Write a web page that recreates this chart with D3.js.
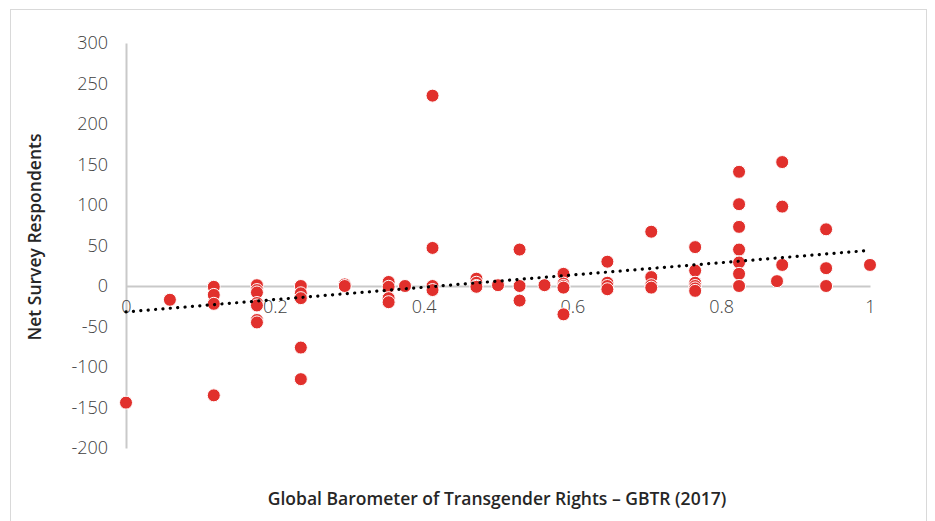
<!DOCTYPE html>
<html>
<head>
<meta charset="utf-8">
<script src="https://cdn.jsdelivr.net/npm/d3@7"></script>
<style>
  html, body { margin: 0; padding: 0; background: #fff; }
  svg { display: block; }
  .tick text { font-family: "Open Sans", sans-serif; font-weight: 300; font-size: 18px; fill: #404040; }
  .title { font-family: "Open Sans", sans-serif; font-weight: 600; font-size: 17.5px; fill: #262626; }
</style>
</head>
<body>
<div id="chart"></div>
<script>
// GBTR score (x) and net survey respondents at that score (y)
var gbtr = [0, 0.059, 0.118, 0.176, 0.235, 0.294, 0.353, 0.375, 0.412, 0.471, 0.5,
            0.529, 0.5625, 0.588, 0.647, 0.706, 0.765, 0.824, 0.875, 0.882, 0.941, 1];
var respondents = [
  [-144],
  [-17],
  [-1, -11, -22, -135],
  [1, -5, -8, -21, -24, -42, -45],
  [0, -9, -15, -76, -115],
  [2, 0],
  [5, -1, -15, -20],
  [0],
  [235, 47, 0, -5],
  [9, 4, 0, -1],
  [1],
  [45, 0, -18],
  [1],
  [15, 3, 0, -2, -35],
  [30, 4, 0, -4],
  [67, 11, 1, -2],
  [48, 19, 4, 0, -3, -6],
  [141, 101, 73, 45, 29, 15, 0],
  [6],
  [153, 98, 26],
  [70, 22, 0],
  [26]
];
// linear trend as drawn in the source (value at GBTR 0 and at GBTR 1)
var trendEnds = [-32, 44];
var yTicks = [300, 250, 200, 150, 100, 50, 0, -50, -100, -150, -200];
var xTicks = [0, 0.2, 0.4, 0.6, 0.8, 1];

var W = 935, H = 521;
var svg = d3.select("#chart").append("svg").attr("width", W).attr("height", H);

svg.append("rect").attr("x", 10.5).attr("y", 9.5).attr("width", 916).attr("height", 520)
  .attr("fill", "#fff").attr("stroke", "#d9d9d9");

var x = d3.scaleLinear().domain([0, 1]).range([126, 870]);
var y = d3.scaleLinear().domain([-200, 300]).range([448, 43]);

var pts = [];
gbtr.forEach(function (g, i) {
  respondents[i].forEach(function (r) { pts.push({x: g, y: r}); });
});

// y axis
var yAxis = svg.append("g").attr("transform", "translate(" + x(0) + ",0)")
  .call(d3.axisLeft(y).tickValues(yTicks).tickSize(0).tickPadding(18).tickFormat(String));
yAxis.select(".domain").attr("stroke", "#c9c9c9").attr("stroke-width", 2);

// x axis through zero
var xAxis = svg.append("g").attr("transform", "translate(0," + y(0) + ")")
  .call(d3.axisBottom(x).tickValues(xTicks).tickSize(0).tickPadding(14).tickFormat(String));
xAxis.select(".domain").attr("stroke", "#c9c9c9").attr("stroke-width", 2);

// points
svg.append("g").selectAll("circle").data(pts).enter().append("circle")
  .attr("cx", function (d) { return x(d.x); })
  .attr("cy", function (d) { return y(d.y); })
  .attr("r", 6.5)
  .attr("fill", "#e1302c")
  .attr("stroke", "#fff").attr("stroke-width", 1);

// trend line
svg.append("line")
  .attr("x1", x(0)).attr("y1", y(trendEnds[0]))
  .attr("x2", x(1)).attr("y2", y(trendEnds[1]))
  .attr("stroke", "#000").attr("stroke-width", 3.2)
  .attr("stroke-linecap", "round").attr("stroke-dasharray", "0.1 7.3");

// axis titles
svg.append("text").attr("class", "title")
  .attr("transform", "translate(41,237) rotate(-90)")
  .attr("text-anchor", "middle").text("Net Survey Respondents");
svg.append("text").attr("class", "title")
  .attr("x", 497).attr("y", 505)
  .attr("text-anchor", "middle").text("Global Barometer of Transgender Rights – GBTR (2017)");
</script>
</body>
</html>
